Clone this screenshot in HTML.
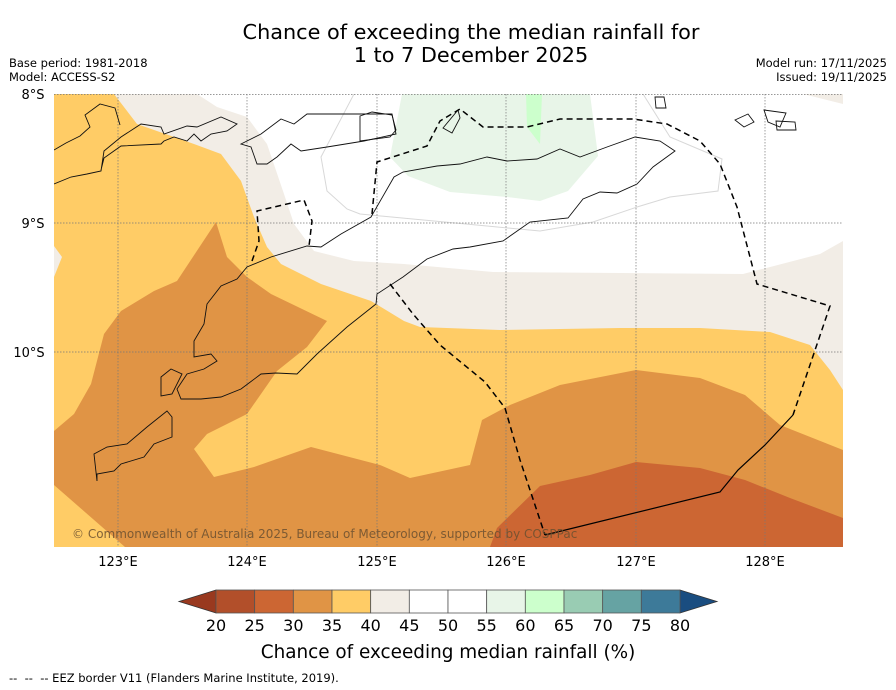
<!DOCTYPE html>
<html><head><meta charset="utf-8"><style>
body{margin:0;background:#fff;width:896px;height:690px;overflow:hidden;font-family:"DejaVu Sans","Liberation Sans",sans-serif}
svg{display:block}
</style></head><body>
<svg id="root" width="896" height="690" viewBox="0 0 896 690" font-family="DejaVu Sans, Liberation Sans, sans-serif">
<text x="471" y="39" font-size="20.8" text-anchor="middle">Chance of exceeding the median rainfall for</text>
<text x="471" y="62" font-size="20.8" text-anchor="middle">1 to 7 December 2025</text>
<text x="9" y="67" font-size="11.5">Base period: 1981-2018</text>
<text x="9" y="81" font-size="11.5">Model: ACCESS-S2</text>
<text x="887" y="67" font-size="11.5" text-anchor="end">Model run: 17/11/2025</text>
<text x="887" y="81" font-size="11.5" text-anchor="end">Issued: 19/11/2025</text>

<defs><clipPath id="mapclip"><rect x="54" y="94" width="789" height="453"/></clipPath></defs>
<g clip-path="url(#mapclip)">
<rect x="54" y="94" width="789" height="453" fill="#f2ede6"/>
<polygon fill="#ffffff" points="197,94 803,94 843,104 843,241 820,254 743,274 493,272 404,264 354,261 314,251 294,224 284,194 267,144 247,117 217,107"/>
<polygon fill="#e8f5e8" points="402,94 590,94 598,156 568,191 540,201 507,197 450,192 408,176 390,157"/>
<polygon fill="#ccffcc" points="526,94 542,94 540,144 527,127"/>
<polyline fill="none" stroke="#d8d8d8" stroke-width="1" points="643,94 670,137 722,159 718,191 670,197 637,207 593,222 540,231 487,226 360,214 347,209 327,191 321,157 354,94"/>
<polygon fill="#ffcc66" points="54,94 114,94 137,124 194,144 221,154 241,181 254,217 267,247 281,264 321,284 371,301 404,321 420,327 500,330 620,328 700,328 770,332 810,345 830,370 843,390 843,547 54,547 54,277 62,257 54,246"/>
<polygon fill="#e09445" points="216,222 227,257 247,277 271,294 327,321 307,347 277,371 247,414 207,434 194,449 214,477 254,467 311,447 380,465 410,478 470,465 482,420 510,405 560,385 636,370 700,378 745,395 780,425 843,450 843,547 125,547 54,485 54,431 74,414 91,384 104,334 121,311 154,291 177,281"/>
<polygon fill="#cc6633" points="490,547 497,528 540,486 590,475 636,462 700,468 745,480 790,498 843,518 843,547"/>
<g stroke="#777" stroke-width="0.7" stroke-dasharray="1.5,1.5">
<line x1="118" y1="94" x2="118" y2="547"/><line x1="247" y1="94" x2="247" y2="547"/><line x1="377" y1="94" x2="377" y2="547"/><line x1="506" y1="94" x2="506" y2="547"/><line x1="636" y1="94" x2="636" y2="547"/><line x1="765" y1="94" x2="765" y2="547"/>
<line x1="54" y1="94.5" x2="843" y2="94.5"/><line x1="54" y1="223" x2="843" y2="223"/><line x1="54" y1="352" x2="843" y2="352"/>
</g>
<g fill="none" stroke="#111" stroke-width="0.9">
<polygon points="376,304 347,327 317,354 297,374 276,373 261,374 241,389 221,397 201,399 181,399 177,389 187,374 204,369 217,361 211,354 194,357 194,341 204,324 207,304 221,286 237,279 247,267 271,257 307,246 321,247 341,234 371,217 394,177 403,172 437,166 460,164 487,157 507,161 537,159 560,149 580,157 607,147 635,137 660,141 675,151 653,167 637,184 617,193 600,192 583,199 568,218 530,222 503,241 470,247 453,249 427,259 403,277 377,294"/>
<polygon points="97,481 94,454 107,447 127,444 147,427 167,411 172,417 172,437 154,444 144,457 121,464 114,471 97,474"/>
<polygon points="161,377 171,369 182,374 172,394 161,396"/>
<polygon points="261,134 281,119 294,124 307,114 344,114 371,114 392,114 396,134 364,141 327,147 301,151 291,144 277,157 267,164 257,164 251,147 241,144"/>
<polyline points="54,184 71,177 87,174 101,171 104,151 121,137 141,124 161,127 164,134 187,126 197,127 221,117 237,124 227,131 211,134 201,141 194,134 187,141 174,137 164,141 161,144 121,146 104,158 101,170"/>
<polyline points="54,150 66,143 80,136 90,127 85,115 100,104 115,108 120,125"/>
<polygon points="360,116 372,112 392,115 396,130 390,137 360,141"/>
<polygon points="443,128 458,110 460,118 452,133"/>
<polygon points="655,97 664,97 666,108 656,108"/>
<polygon points="735,120 748,114 754,122 744,127"/>
<polygon points="764,110 786,113 780,127 768,122"/>
<polygon points="776,121 795,122 796,130 777,130"/>
</g>
<g fill="none" stroke="#000" stroke-width="1.5">
<polyline stroke-dasharray="6,4" points="252,261 259,241 257,211 304,200 312,221 309,246"/>
<polyline stroke-dasharray="6,4" points="372,214 377,162 427,146 440,121 460,109 483,127 527,127 560,119 633,119 667,124 700,141 720,164 737,207 757,284 830,306 793,415"/>
<polyline stroke-width="1.2" points="793,415 765,445 738,470 720,492 545,535"/>
<polyline stroke-dasharray="6,4" points="390,284 413,314 440,345 485,382 505,408 520,460 545,535"/>
</g>
<text x="72" y="538" font-size="12" fill="#6b5030" fill-opacity="0.85">© Commonwealth of Australia 2025, Bureau of Meteorology, supported by COSPPac</text>
</g>
<g font-size="13" text-anchor="middle">
<text x="33" y="99">8°S</text><text x="33" y="228">9°S</text><text x="29" y="357">10°S</text>
</g>
<g font-size="13" text-anchor="middle">
<text x="118" y="566">123°E</text><text x="247" y="566">124°E</text><text x="377" y="566">125°E</text><text x="506" y="566">126°E</text><text x="636" y="566">127°E</text><text x="765" y="566">128°E</text>
</g>
<g id="colorbar"></g>
<text x="448" y="658" font-size="18.4" text-anchor="middle">Chance of exceeding median rainfall (%)</text>
<text x="9" y="682" font-size="11.5" xml:space="preserve">--  --  -- EEZ border V11 (Flanders Marine Institute, 2019).</text>
</svg>
<script>
const levels = [20,25,30,35,40,45,50,55,60,65,70,75,80];
const binColors = ["#b24f2a","#cc6633","#e09445","#ffcc66","#f2ede6","#ffffff","#ffffff","#e8f5e8","#ccffcc","#99ccb3","#66a3a3","#3d7a99"];
const underColor = "#99391f";
const overColor = "#1a4d80";
const NS = "http://www.w3.org/2000/svg";
const cb = document.getElementById('colorbar');
const x0 = 216, x1 = 680, y0 = 590, y1 = 613;
function xs(v){ return x0 + (v - levels[0]) / (levels[levels.length-1] - levels[0]) * (x1 - x0); }
function mk(tag, attrs){ const e = document.createElementNS(NS, tag); for (const k in attrs) e.setAttribute(k, attrs[k]); return e; }
const ym = (y0 + y1) / 2;
const tl = mk('polygon', {points: `${x0},${y0} ${x0},${y1} 179,${ym}`, fill: underColor, stroke: '#333', 'stroke-width': 0.8});


cb.appendChild(tl);
const tr = mk('polygon', {points: `${x1},${y0} ${x1},${y1} 717,${ym}`, fill: overColor, stroke: '#333', 'stroke-width': 0.8});


cb.appendChild(tr);
for (let i = 0; i < binColors.length; i++) {
  const a = xs(levels[i]), b = xs(levels[i+1]);
  const r = mk('rect', {x: a, y: y0, width: b - a, height: y1 - y0, fill: binColors[i], stroke: '#555', 'stroke-width': 0.8});
  
  
  cb.appendChild(r);
}
for (let i = 0; i < levels.length; i++) {
  const t = mk('text', {x: xs(levels[i]), y: 631, 'font-size': 16, 'text-anchor': 'middle'});
  t.textContent = levels[i];
  
  
  cb.appendChild(t);
}
</script>
</body></html>
